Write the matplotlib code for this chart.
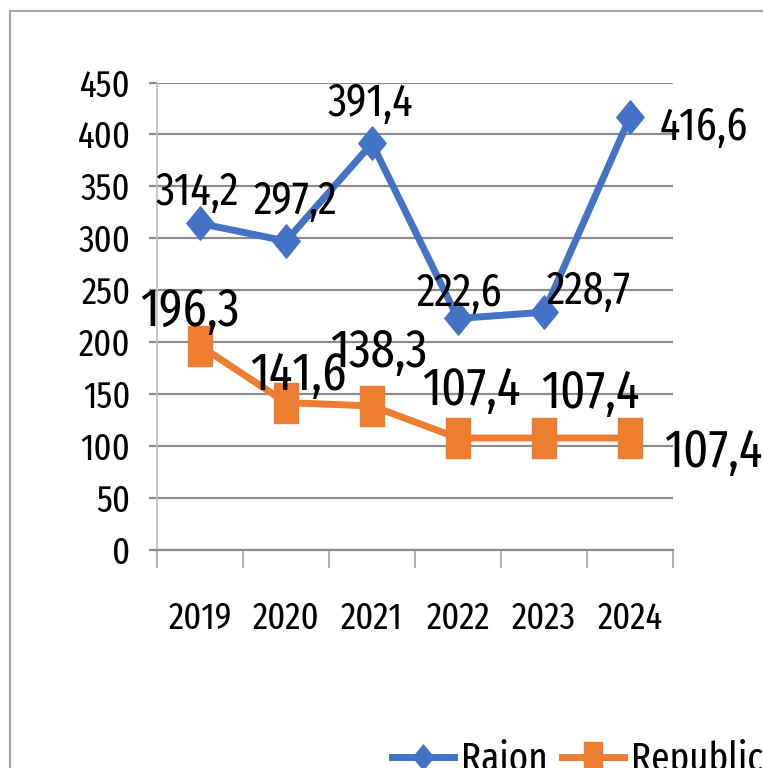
import matplotlib
matplotlib.use("Agg")
import matplotlib.pyplot as plt
from matplotlib.patches import Rectangle
from matplotlib.path import Path as MPath

plt.rcParams["font.family"] = ["Fira Sans Extra Condensed", "DejaVu Sans"]

years = ["2019", "2020", "2021", "2022", "2023", "2024"]
rajon = [314.2, 297.2, 391.4, 222.6, 228.7, 416.6]
republica = [196.3, 141.6, 138.3, 107.4, 107.4, 107.4]

BLUE = "#4472C4"
ORANGE = "#ED7D31"
GRID = "#8C8C8C"

# label baseline offsets in pixels (dx, dy) from each data point
rajon_off = [(-3, 18), (9, 27), (-2, 27), (1, 12), (45, 8), (74, -23)]
rep_off = [(-10, 20), (12, 13), (7, 39), (13, 33), (46, 30), (83, -29)]

# markers squeezed horizontally, like the source picture
diamond = MPath([(0, 0.5), (0.41, 0), (0, -0.5), (-0.41, 0), (0, 0.5)], closed=True)
tall_sq = MPath([(-0.31, -0.5), (0.31, -0.5), (0.31, 0.5), (-0.31, 0.5), (-0.31, -0.5)], closed=True)


def fmt(v):
    return f"{v:.1f}".replace(".", ",")


fig = plt.figure(figsize=(7.63, 7.68), dpi=100)
fig.patches.append(Rectangle((9.5 / 763, -0.1), 1.2, 1.1 - 11 / 768, transform=fig.transFigure,
                             fill=False, edgecolor="#A6A6A6", linewidth=1.5))

ax = fig.add_axes([157 / 763, 1 - 549.5 / 768, 516 / 763, 467 / 768])
x = list(range(len(years)))

ax.plot(x, rajon, color=BLUE, lw=5, marker=diamond, ms=24, mec=BLUE, mfc=BLUE,
        label="Rajon", zorder=3, clip_on=False)
ax.plot(x, republica, color=ORANGE, lw=5, marker=tall_sq, ms=29, mec=ORANGE, mfc=ORANGE,
        label="Republica", zorder=3, clip_on=False)

for xi, v, off in zip(x, rajon, rajon_off):
    ax.annotate(fmt(v), (xi, v), xytext=off, textcoords="offset pixels",
                ha="center", va="baseline", fontsize=33, color="black")
for xi, v, off in zip(x, republica, rep_off):
    ax.annotate(fmt(v), (xi, v), xytext=off, textcoords="offset pixels",
                ha="center", va="baseline", fontsize=38, color="black")

ax.set_xlim(-0.5, len(years) - 0.5)
ax.set_ylim(0, 450)
ax.set_yticks(range(0, 451, 50))
ax.yaxis.grid(True, color=GRID, lw=1.6)
ax.set_axisbelow(True)

ax.set_xticks([i - 0.5 for i in range(len(years) + 1)])
ax.set_xticklabels([])
ax.set_xticks(x, minor=True)
ax.set_xticklabels(years, minor=True)
ax.tick_params(axis="x", which="major", length=13, width=1.2, color="#A6A6A6", direction="out")
ax.tick_params(axis="x", which="minor", length=0, pad=37, labelsize=27)
ax.tick_params(axis="y", length=6, width=1.6, color=GRID, pad=13, labelsize=27)

for s in ["top", "right"]:
    ax.spines[s].set_visible(False)
ax.spines["bottom"].set_color(GRID)
ax.spines["bottom"].set_linewidth(1.6)
ax.spines["left"].set_color("#BFBFBF")
ax.spines["left"].set_linewidth(1.2)

fig.legend(loc="center left", bbox_to_anchor=(392 / 763, 1 - 759 / 768), ncol=2,
           frameon=False, fontsize=29, handlelength=1.55, handletextpad=0.17,
           columnspacing=0.35, borderpad=0, borderaxespad=0, markerscale=0.75)

fig.savefig("out.png", dpi=100)
